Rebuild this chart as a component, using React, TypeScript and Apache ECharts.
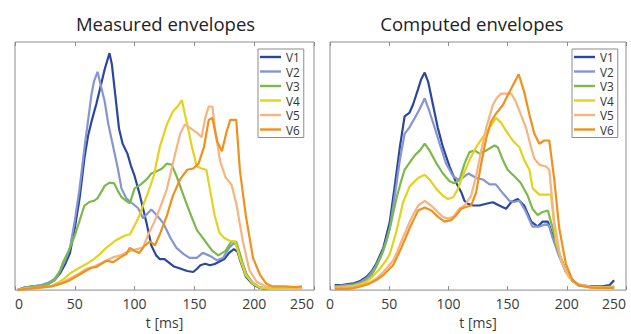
import React, { useEffect, useRef } from "react";
import * as echarts from "echarts";

const seriesNames = ["V1", "V2", "V3", "V4", "V5", "V6"];
const seriesColors = ["#2b479d", "#8595d4", "#7bb94b", "#e2d31e", "#f7b47e", "#f0901f"];
const panelTitles = ["Measured envelopes", "Computed envelopes"];
const axisTitle = "t [ms]";

const measuredV1: [number, number][] = [[2,0],[8,1],[15,1.5],[22,1.8],[28,2.5],[33,4],[38,7],[42,10.5],[46,15],[50,25],[54,37],[58,53],[61,62],[64,68],[68,75],[72,83],[75,89],[79,95.5],[81,91],[84,78],[87,65],[90,59],[94,55],[97,50],[100,46],[104,39],[107,33],[110,27],[114,18],[118,14],[121,12.5],[125,12.5],[129,11],[133,9.5],[138,8.7],[144,7.7],[149,7.3],[152,8.5],[155,10],[159,10.6],[163,10],[167,10.5],[171,11.5],[175,12.5],[179,15],[183,16.5],[186,15.5],[189,11],[193,5.5],[198,2.7],[204,1],[210,0.5],[240,0.5]];
const measuredV2: [number, number][] = [[2,0],[8,1],[15,1.5],[22,2],[28,3],[33,4.5],[38,8],[42,12],[46,17],[50,28],[54,41],[58,57],[61,68],[64,79],[66,84],[69,88],[72,82],[75,76],[78,67],[82,58],[86,49],[89,41],[93,37],[98,35],[103,33],[107,29],[111,31],[114,32.5],[118,30.5],[124,27],[130,21],[135,17],[141,14.5],[146,13],[152,13],[157,15],[163,13.8],[169,12],[174,13],[179,17],[183,19],[186,17.5],[190,11],[194,6],[199,3],[205,1],[212,0.5],[240,0.5]];
const measuredV3: [number, number][] = [[2,0],[10,1],[20,1.5],[28,2.5],[33,4],[37,7],[40,11],[45,16],[50,22],[54,28],[58,34],[62,35.5],[66,36],[69,37],[72,39.5],[75,42],[79,43.3],[83,43],[86,40],[89,37.5],[93,36],[96,35],[100,41],[105,42.5],[110,44.6],[114,47],[119,48],[123,49],[127,51],[131,50.5],[135,46],[141,38],[146,31.5],[152,24.3],[159,19.7],[165,15.8],[170,14],[176,15.8],[181,19.7],[185,19.5],[189,13],[193,6.5],[198,3],[204,1.2],[212,0.5],[240,0.5]];
const measuredV4: [number, number][] = [[2,0],[10,0.8],[20,1],[30,1.5],[36,3],[41,4.5],[46,6.7],[52,8.5],[60,10.6],[66,12.5],[71,14.5],[75,16.5],[80,18.4],[84,20],[88,21],[92,22],[96,22.4],[100,26],[104,30],[107,34],[111,39],[116,46],[121,57.6],[127,66.8],[132,72],[136,74],[139.5,76.6],[142,71],[144,66.8],[148,57.6],[152,49.8],[156,49],[160,48.5],[163,40.6],[167,30],[171,23],[175,21],[179,20],[184,19.5],[188,13],[193,6],[199,2.7],[205,1],[215,0.5],[240,0.5]];
const measuredV5: [number, number][] = [[2,0],[10,0.5],[20,1],[30,1.5],[36,2.5],[41,3.5],[46,4.7],[53,6.5],[60,8.6],[66,9.5],[71,10.6],[77,12],[82,13.2],[88,14],[93,15.2],[98,16],[102,16.5],[107,17.1],[111,22],[116,27],[121,32.8],[127,40.7],[132,51],[138,62.9],[142,66.8],[146,65.5],[152,63.5],[156,61.6],[159,69.4],[162,74],[165,74],[167.5,64],[171.5,52],[176,45.5],[181,42.5],[185,35],[190.5,19.7],[196,8],[202,3.4],[210,1.4],[220,1.2],[240,1]];
const measuredV6: [number, number][] = [[2,0],[10,0.5],[20,1],[30,1.5],[36,2.2],[41,3],[46,4],[53,6],[60,8],[64,9],[68,9.3],[72,10.5],[77,11.9],[82,11.2],[88,13.2],[93,14.5],[96,17],[100,15.8],[104,15],[108,17.7],[113,19.6],[117,18],[121,22.4],[127,30],[132,38],[138,44.6],[144,48.5],[149,49],[153.5,51],[158,57.6],[162,68.6],[165,69.4],[169,60],[173,56],[177,64],[180,68.6],[185,68.6],[188,48.5],[193,30],[199,13],[205,6],[210,2.7],[215,1.5],[225,1.5],[235,1.2],[240,1.5]];

const computedV1: [number, number][] = [[4,2],[10,2],[15,2.4],[20,2.7],[25,3.5],[31,5.4],[35,7.5],[39,10.6],[45,17],[50.5,27.5],[54.7,42],[59,57.6],[63,70],[67,71.4],[70,74.6],[74.4,81],[77,85],[80,87.7],[83,83.8],[87,74.6],[91,65.5],[95.4,57.6],[101,49.8],[106.6,43.3],[111,39.3],[113.6,36],[116.4,34.8],[121,34.1],[126,34.1],[132,34.8],[137.5,35.4],[143,34.1],[148.7,32.8],[153,35.4],[158.5,36.7],[164,34.1],[170,27.6],[175.4,25.6],[179.6,27.6],[184,27.6],[188,22.4],[193.6,14.5],[199,8],[205,4],[210,2],[220,1.5],[230,1.5],[236,2],[240,4]];
const computedV2: [number, number][] = [[4,1.5],[10,1.8],[20,2.3],[25,3],[31,4.8],[35,7],[39,10],[45,16],[50.5,24.8],[54.7,38],[59,52.4],[63,63],[67,65.5],[71.6,69.4],[76,73.2],[80,77.3],[84,72],[88.4,65.5],[92.6,59],[98,51],[104,45.9],[108,44.6],[112,45.2],[117,47],[123.5,45.2],[129,44.6],[134.7,42.6],[140,42.6],[146,39],[151.5,36],[155,35.5],[160,36],[165,32],[171,25.6],[176.8,25.6],[182,26.5],[185,26],[188,21],[193.6,13.5],[199,7.5],[205,3.5],[210,1.8],[220,1.3],[230,1],[240,1.2]];
const computedV3: [number, number][] = [[4,1.3],[10,1.5],[20,2],[25,2.7],[31,4],[35,6],[39,9.3],[43.5,14],[47.7,19.7],[52,28],[56,36.7],[59.5,43],[63,48.5],[68.7,52.4],[72,54.5],[76,56.3],[80,59],[84,56.3],[90,51],[95.4,47],[101,43.9],[105,43.1],[109.4,44.4],[113.6,51],[117.8,55.6],[122,56.3],[126.3,55],[132,56.3],[139,58.3],[141.7,57.6],[146,52.4],[150,48.5],[155.7,45.9],[161,43.3],[167,38],[171,32.8],[175.4,30.2],[179.6,31.5],[184,32.1],[188,25],[193.6,14.5],[199,8],[205,3.5],[210,2],[220,1.4],[230,1.2],[240,1.4]];
const computedV4: [number, number][] = [[4,1],[10,1.2],[20,1.7],[25,2.3],[31,3.5],[35,5],[38,6.5],[42,8.6],[46,11],[50.5,14.5],[56,23.5],[61.7,35.4],[67.3,41.8],[74.4,45.2],[80,46.5],[84,44.6],[90,40.7],[95.4,38],[99.6,36.7],[104,37.4],[108,40.7],[112,45.9],[117.8,52.4],[123.4,57.6],[129,61.6],[134.7,65.5],[140.3,69.4],[144.5,67.5],[148.7,64.2],[154.3,60.3],[160,57.6],[164,52.4],[168.4,48.5],[171.2,41],[176.8,38.5],[182,38.5],[186.6,38.5],[190.8,19.7],[196.4,10.6],[202,5],[208,2.5],[220,1.2],[240,1]];
const computedV5: [number, number][] = [[4,0.8],[10,1],[20,1.2],[25,1.8],[31,2.6],[35,3.5],[40,5],[45,7.3],[49,9.5],[53.3,11.9],[56.8,15.5],[60.3,19.7],[63.8,23.5],[67.3,27.5],[70.8,31],[74.4,34],[80,36],[85.6,34],[91.2,31.4],[95.4,29.5],[99.6,28.8],[104,29.5],[109.4,32.8],[113.6,34.1],[119.2,38],[123.4,45.9],[127.7,56.3],[132,65.5],[137.5,74.6],[141,77.5],[144.5,79.2],[153,79.2],[157,75.9],[161.3,70.6],[165.5,65.5],[169.8,57.6],[172.6,53],[176.8,50.5],[182.4,49.8],[185.2,48.5],[189.4,27.6],[195,11.9],[202,5.4],[208,2.5],[220,1.2],[240,1]];
const computedV6: [number, number][] = [[4,0.5],[10,0.6],[15,0.5],[20,0.8],[25,1.4],[31,2.2],[35,3],[40,4.3],[45,6],[49,8],[53.3,10],[56.8,13.5],[60.3,17.1],[63.8,21],[67.3,25],[70.8,28.5],[74.4,32.1],[80,33.3],[85.6,32.1],[91.2,29.5],[96.8,27.6],[102.4,28.2],[106.6,30.2],[110.8,32.8],[115,33.5],[119.2,34.1],[123.4,39.3],[127.7,51],[132,61.3],[136,67.8],[140.3,71.2],[146,74.6],[150,78.4],[154.3,82.4],[159.4,87],[164,79.9],[168.4,70.8],[172.6,63],[176.8,59],[181,60.3],[185.2,60.3],[189.4,44.6],[193.6,25],[199.2,10.6],[204.8,4],[210,2],[220,1],[240,0.8]];

const measuredSeries = [measuredV1, measuredV2, measuredV3, measuredV4, measuredV5, measuredV6];
const computedSeries = [computedV1, computedV2, computedV3, computedV4, computedV5, computedV6];

const FONT = "Open Sans";
const BORDER = "#8c8c8c";

export default function App() {
  const ref = useRef<HTMLDivElement>(null);
  useEffect(() => {
    document.body.style.margin = "0";
    if (!ref.current) return;
    const chart = echarts.init(ref.current, undefined, { renderer: "svg" });

    const grids = [
      { left: 15, top: 42, width: 299, height: 255 },
      { left: 330, top: 42, width: 296, height: 255 },
    ];

    const bottomAxis = (gridIndex: number, alignMin: string) => ({
      type: "value",
      gridIndex,
      position: "bottom",
      min: 0,
      max: 250,
      interval: 50,
      axisLine: { show: false },
      axisTick: { show: true, inside: true, length: 4, lineStyle: { color: BORDER } },
      splitLine: { show: false },
      axisLabel: {
        fontFamily: FONT,
        fontSize: 14,
        color: "#3a3a3a",
        margin: 6,
        alignMinLabel: alignMin,
        alignMaxLabel: "right",
      },
      name: axisTitle,
      nameLocation: "middle",
      nameGap: 23,
      nameTextStyle: { fontFamily: FONT, fontSize: 14, color: "#3a3a3a" },
    });
    const topAxis = (gridIndex: number) => ({
      type: "value",
      gridIndex,
      position: "top",
      min: 0,
      max: 250,
      interval: 50,
      axisLine: { show: false },
      axisTick: { show: true, inside: true, length: 4, lineStyle: { color: BORDER } },
      axisLabel: { show: false },
      splitLine: { show: false },
    });
    const yAxis = (gridIndex: number) => ({
      type: "value",
      gridIndex,
      min: 0,
      max: 100,
      axisLine: { show: false },
      axisTick: { show: false },
      axisLabel: { show: false },
      splitLine: { show: false },
    });

    const makeSeries = (data: [number, number][][], axisIndex: number) =>
      data.map((d, i) => ({
        type: "line",
        name: seriesNames[i],
        xAxisIndex: axisIndex,
        yAxisIndex: axisIndex,
        data: d,
        symbol: "none",
        showSymbol: false,
        lineStyle: { width: 2.2, color: seriesColors[i] },
        itemStyle: { color: seriesColors[i] },
        z: 2 + i,
      }));

    const legend = (left: number) => ({
      data: seriesNames,
      orient: "vertical",
      left,
      top: 49,
      icon: "rect",
      itemWidth: 21,
      itemHeight: 2.4,
      itemGap: 2.5,
      padding: [2, 4, 2, 2],
      borderColor: BORDER,
      borderWidth: 1,
      backgroundColor: "#ffffff",
      selectedMode: false,
      textStyle: { fontFamily: FONT, fontSize: 11.8, lineHeight: 11.8, color: "#333333" },
    });

    chart.setOption({
      animation: false,
      backgroundColor: "#ffffff",
      grid: grids.map((g) => ({ ...g, show: true, borderColor: BORDER, borderWidth: 1, backgroundColor: "transparent" })),
      xAxis: [bottomAxis(0, "left"), bottomAxis(1, "center"), topAxis(0), topAxis(1)],
      yAxis: [yAxis(0), yAxis(1)],
      legend: [legend(258), legend(572)],
      series: [...makeSeries(measuredSeries, 0), ...makeSeries(computedSeries, 1)],
      graphic: panelTitles.map((t, i) => ({
        type: "text",
        x: grids[i].left + grids[i].width / 2 + (i === 0 ? 1 : -6),
        y: 23,
        style: {
          text: t,
          fontFamily: FONT,
          fontSize: 18.5,
          fill: "#222222",
          align: "center",
          verticalAlign: "middle",
        },
      })),
    });
    return () => chart.dispose();
  }, []);
  return <div ref={ref} style={{ position: "absolute", left: 0, top: 0, width: 631, height: 334 }} />;
}
